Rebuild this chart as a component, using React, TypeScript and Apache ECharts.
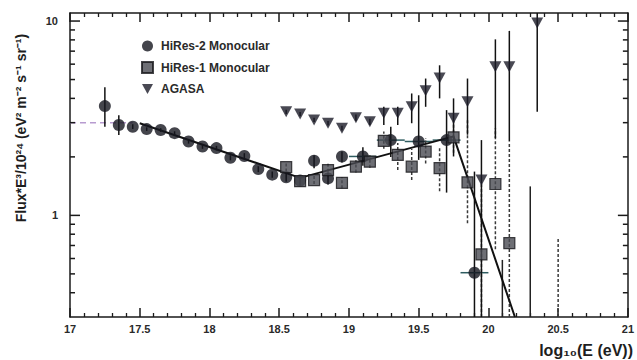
import React, { useEffect, useRef } from "react";
import * as echarts from "echarts";

// ---- axis ranges & ticks ----
const X_MIN = 17;
const X_MAX = 21;
const Y_MIN = 0.3;
const Y_MAX = 11;
const yMajorTicks = [1, 10];
const yMinorTicks = [0.4, 0.5, 0.6, 0.7, 0.8, 0.9, 2, 3, 4, 5, 6, 7, 8, 9];

// ---- HiRes-2 Monocular ----
const hires2E = [17.25, 17.35, 17.45, 17.55, 17.65, 17.75, 17.85, 17.95, 18.05, 18.15, 18.25, 18.35, 18.45, 18.55, 18.65, 18.75, 18.85, 18.95, 19.1, 19.3, 19.5, 19.7, 19.9];
const hires2V = [3.65, 2.92, 2.86, 2.78, 2.75, 2.65, 2.4, 2.26, 2.22, 1.98, 2.02, 1.73, 1.62, 1.57, 1.51, 1.91, 1.55, 2.01, 2.01, 2.44, 2.4, 2.44, 0.507];
const hires2Low = [2.86, 2.59, 2.78, 2.72, 2.69, 2.59, 2.34, 2.2, 2.16, 1.92, 1.95, 1.67, 1.56, 1.49, 1.42, 1.75, 1.44, 1.87, 1.8, 2.0, 1.93, 1.31, 0.3];
const hires2High = [4.56, 3.28, 2.94, 2.84, 2.81, 2.71, 2.46, 2.32, 2.28, 2.04, 2.09, 1.79, 1.68, 1.65, 1.6, 2.04, 1.66, 2.13, 2.24, 2.86, 4.15, 3.48, 1.68];
const hires2BinLo = [null, null, null, null, null, null, null, null, null, null, null, null, null, null, null, null, null, null, 19.0, 19.2, 19.4, 19.6, 19.8];
const hires2BinHi = [null, null, null, null, null, null, null, null, null, null, null, null, null, null, null, null, null, null, 19.2, 19.4, 19.6, 19.8, 20.0];

// ---- HiRes-1 Monocular ----
const hires1E = [18.55, 18.65, 18.75, 18.85, 18.95, 19.05, 19.15, 19.25, 19.35, 19.45, 19.55, 19.65, 19.75, 19.85, 19.95, 20.05, 20.15];
const hires1V = [1.77, 1.5, 1.52, 1.71, 1.47, 1.78, 1.89, 2.42, 2.05, 1.78, 2.13, 1.75, 2.52, 1.48, 0.63, 1.45, 0.72];
const hires1Low = [1.68, 1.43, 1.45, 1.58, 1.38, 1.66, 1.76, 2.2, 1.71, 1.52, 1.85, 1.33, 2.1, 0.91, 0.3, 0.67, 0.3];
const hires1High = [1.86, 1.58, 1.6, 1.86, 1.57, 1.92, 2.04, 2.7, 2.36, 2.2, 2.5, 2.25, 3.1, 3.1, 1.45, 2.81, 2.36];

// ---- AGASA ----
const agasaE = [18.55, 18.65, 18.75, 18.85, 18.95, 19.05, 19.15, 19.25, 19.35, 19.45, 19.55, 19.65, 19.75, 19.85, 19.95, 20.05, 20.15, 20.35];
const agasaV = [3.41, 3.32, 3.1, 2.98, 2.81, 3.18, 3.03, 3.35, 3.35, 3.62, 4.38, 5.1, 3.16, 3.84, 1.52, 5.81, 5.81, 9.77];
const agasaLow = [3.32, 3.24, 3.02, 2.9, 2.73, 3.06, 2.92, 2.92, 2.92, 2.98, 3.62, 4.0, 2.01, 2.6, 0.3, 2.5, 2.4, 3.41];
const agasaHigh = [3.5, 3.4, 3.18, 3.06, 2.89, 3.3, 3.14, 3.62, 3.62, 4.24, 5.06, 5.92, 4.0, 5.06, 2.44, 8.05, 8.9, 11];

// ---- upper-limit bars without markers ----
const solidLimitE = [20.1, 20.3];
const solidLimitTop = [0.59, 1.41];
const dashedLimitE = [20.5];
const dashedLimitTop = [0.77];

// ---- broken power-law fit ----
const fitE = [17.5, 18.65, 19.75, 20.19];
const fitV = [2.98, 1.56, 2.55, 0.3];

// ---- faint dashed reference line ----
const refE = [17.0, 17.45];
const refV = [3.0, 3.0];

const FONT = "'Liberation Sans', Arial, sans-serif";

function vBars(name: string, items: number[][], color: string, dashed: boolean, z: number) {
  return {
    type: "custom",
    name,
    silent: true,
    z,
    encode: { x: 0, y: [1, 2] },
    data: items,
    renderItem: (_p: any, api: any) => {
      const x = api.value(0);
      const a = api.coord([x, api.value(1)]);
      const b = api.coord([x, api.value(2)]);
      return {
        type: "line",
        shape: { x1: a[0], y1: a[1], x2: b[0], y2: b[1] },
        style: { stroke: color, lineWidth: 1.5, lineDash: dashed ? [3, 2] : null },
      };
    },
  };
}

export default function App() {
  const ref = useRef<HTMLDivElement>(null);
  useEffect(() => {
    if (!ref.current) return;
    const chart = echarts.init(ref.current, undefined, { renderer: "svg" });

    const h2Bars = hires2E.map((e, i) => [e, hires2Low[i], hires2High[i]]);
    const h2XBars: number[][] = [];
    hires2E.forEach((_e, i) => {
      const lo = hires2BinLo[i];
      const hi = hires2BinHi[i];
      if (lo != null && hi != null) h2XBars.push([lo, hi, hires2V[i]]);
    });
    const h1Bars = hires1E.map((e, i) => [e, hires1Low[i], hires1High[i]]);
    const agBars = agasaE.map((e, i) => [e, agasaLow[i], agasaHigh[i]]);
    const solidLim = solidLimitE.map((e, i) => [e, Y_MIN, solidLimitTop[i]]);
    const dashedLim = dashedLimitE.map((e, i) => [e, Y_MIN, dashedLimitTop[i]]);

    const tickItems = [
      ...yMajorTicks.map((v) => [X_MIN, v, 1]),
      ...yMinorTicks.map((v) => [X_MIN, v, 0]),
    ];

    const axisLine = { show: true, lineStyle: { color: "#1a1a1a", width: 1.5 } };
    const xTick = { show: true, inside: true, length: 9, lineStyle: { color: "#1a1a1a", width: 1.5 } };
    const xMinor = { show: true, splitNumber: 5, length: 4, lineStyle: { color: "#1a1a1a", width: 1.3 } };

    const option: any = {
      animation: false,
      textStyle: { fontFamily: FONT },
      grid: { left: 70, right: 5, top: 13, bottom: 43 },
      legend: {
        orient: "vertical",
        left: 136,
        top: 35,
        itemWidth: 11,
        itemHeight: 11,
        itemGap: 9,
        selectedMode: false,
        data: ["HiRes-2 Monocular", "HiRes-1 Monocular", "AGASA"],
        textStyle: { fontFamily: FONT, fontWeight: "bold", fontSize: 12, color: "#2a2a2a", padding: [0, 0, 0, 3] },
      },
      xAxis: [
        {
          type: "value",
          min: X_MIN,
          max: X_MAX,
          interval: 0.5,
          position: "bottom",
          axisLine,
          axisTick: xTick,
          minorTick: xMinor,
          splitLine: { show: false },
          minorSplitLine: { show: false },
          axisLabel: { fontFamily: FONT, fontWeight: "bold", fontSize: 11, color: "#2a2a2a", margin: 6 },
        },
        {
          type: "value",
          min: X_MIN,
          max: X_MAX,
          interval: 0.5,
          position: "top",
          axisLine,
          axisTick: xTick,
          minorTick: xMinor,
          splitLine: { show: false },
          minorSplitLine: { show: false },
          axisLabel: { show: false },
        },
      ],
      yAxis: [
        {
          type: "log",
          logBase: 10,
          min: Y_MIN,
          max: Y_MAX,
          position: "left",
          axisLine,
          axisTick: { show: false },
          splitLine: { show: false },
          axisLabel: {
            fontFamily: FONT,
            fontWeight: "bold",
            fontSize: 11,
            color: "#2a2a2a",
            margin: 12,
            showMinLabel: false,
            showMaxLabel: false,
            formatter: (v: number) => {
              for (const t of yMajorTicks) if (Math.abs(v - t) < 1e-6 * t) return String(t);
              return "";
            },
          },
        },
        {
          type: "log",
          logBase: 10,
          min: Y_MIN,
          max: Y_MAX,
          position: "right",
          axisLine,
          axisTick: { show: false },
          splitLine: { show: false },
          axisLabel: { show: false },
        },
      ],
      graphic: [
        {
          type: "text",
          x: 21,
          y: 128,
          rotation: Math.PI / 2,
          style: {
            text: "Flux*E³/10²⁴ (eV² m⁻² s⁻¹ sr⁻¹)",
            font: `bold 14px ${FONT}`,
            fill: "#1e1e1e",
            align: "center",
            verticalAlign: "middle",
          },
        },
        {
          type: "text",
          x: 633,
          y: 350,
          style: {
            text: "log₁₀(E (eV))",
            font: `bold 16px ${FONT}`,
            fill: "#1e1e1e",
            align: "right",
            verticalAlign: "middle",
          },
        },
      ],
      series: [
        {
          type: "custom",
          name: "yTicks",
          silent: true,
          z: 6,
          clip: false,
          encode: { x: 0, y: 1 },
          data: tickItems,
          renderItem: (_p: any, api: any) => {
            const v = api.value(1);
            const major = api.value(2) === 1;
            const len = major ? 10 : 5;
            const l = api.coord([X_MIN, v]);
            const r = api.coord([X_MAX, v]);
            return {
              type: "group",
              children: [
                { type: "line", shape: { x1: l[0], y1: l[1], x2: l[0] + len, y2: l[1] }, style: { stroke: "#1a1a1a", lineWidth: 1.5 } },
                { type: "line", shape: { x1: r[0], y1: r[1], x2: r[0] - len, y2: r[1] }, style: { stroke: "#1a1a1a", lineWidth: 1.5 } },
              ],
            };
          },
        },
        {
          type: "line",
          name: "ref",
          silent: true,
          symbol: "none",
          z: 1,
          data: refE.map((e, i) => [e, refV[i]]),
          lineStyle: { color: "#b79bd0", width: 1.5, type: [6, 4] },
        },
        vBars("hires2Err", h2Bars, "#111", false, 2),
        {
          type: "custom",
          name: "hires2XErr",
          silent: true,
          z: 2,
          encode: { x: [0, 1], y: 2 },
          data: h2XBars,
          renderItem: (_p: any, api: any) => {
            const a = api.coord([api.value(0), api.value(2)]);
            const b = api.coord([api.value(1), api.value(2)]);
            return {
              type: "line",
              shape: { x1: a[0], y1: a[1], x2: b[0], y2: b[1] },
              style: { stroke: "#2e5c60", lineWidth: 1.5 },
            };
          },
        },
        vBars("hires1Err", h1Bars, "#3a3a3a", true, 2),
        vBars("agasaErr", agBars, "#111", false, 2),
        vBars("solidLimits", solidLim, "#222", false, 2),
        vBars("dashedLimits", dashedLim, "#3a3a3a", true, 2),
        {
          type: "line",
          name: "fit",
          silent: true,
          symbol: "none",
          z: 3,
          data: fitE.map((e, i) => [e, fitV[i]]),
          lineStyle: { color: "#111", width: 2 },
        },
        {
          type: "scatter",
          name: "HiRes-2 Monocular",
          z: 5,
          symbol: "circle",
          symbolSize: 12,
          itemStyle: { color: "#15161f" },
          data: hires2E.map((e, i) => [e, hires2V[i]]),
        },
        {
          type: "scatter",
          name: "HiRes-1 Monocular",
          z: 5,
          symbol: "rect",
          symbolSize: 11,
          itemStyle: { color: "#4a4b52", borderColor: "#16161a", borderWidth: 1.2 },
          data: hires1E.map((e, i) => [e, hires1V[i]]),
        },
        {
          type: "scatter",
          name: "AGASA",
          z: 5,
          symbol: "path://M0,0L10,0L5,9Z",
          symbolSize: [12, 11],
          itemStyle: { color: "#1c1c28" },
          data: agasaE.map((e, i) => [e, agasaV[i]]),
        },
      ],
    };
    chart.setOption(option);
    return () => chart.dispose();
  }, []);

  return (
    <div
      ref={ref}
      style={{ position: "fixed", left: 0, top: 0, width: 637, height: 360, background: "#fff" }}
    />
  );
}
